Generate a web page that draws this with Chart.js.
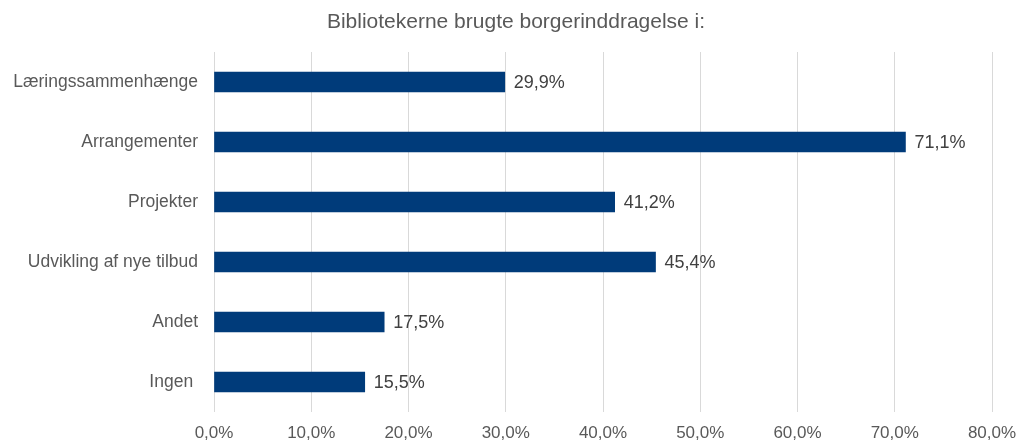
<!DOCTYPE html>
<html lang="da">
  <head>
    <meta charset="UTF-8" />
    <title>Borgerinddragelse</title>
    <style>
      html, body { margin: 0; padding: 0; background: #fff; }
      #wrap { width: 1022px; height: 442px; position: relative; }
    </style>
  </head>
  <body>
    <div id="wrap"><canvas id="myChart"></canvas></div>

    <script src="https://cdn.jsdelivr.net/npm/chart.js"></script>
    <script>
      const titel = "Bibliotekerne brugte borgerinddragelse i:";
      const kategorier = [
        "Læringssammenhænge",
        "Arrangementer",
        "Projekter",
        "Udvikling af nye tilbud",
        "Andet",
        "Ingen ",
      ];
      const andele = [29.9, 71.1, 41.2, 45.4, 17.5, 15.5];
      const xMin = 0;
      const xMax = 80;
      const xStep = 10;

      const tekstFarve = "#595959";
      const skrift = "'Liberation Sans', Arial, sans-serif";
      const fmt = (v) => v.toFixed(1).replace(".", ",") + "%";

      // titel + værdier til højre for hver søjle
      const tekster = {
        id: "tekster",
        afterDatasetsDraw(chart) {
          const { ctx } = chart;
          const meta = chart.getDatasetMeta(0);
          ctx.save();
          ctx.textBaseline = "middle";

          ctx.font = "21px " + skrift;
          ctx.fillStyle = tekstFarve;
          ctx.textAlign = "center";
          ctx.fillText(titel, 516, 22);

          ctx.font = "18px " + skrift;
          ctx.fillStyle = "#404040";
          ctx.textAlign = "left";
          meta.data.forEach((bar, i) => {
            ctx.fillText(fmt(andele[i]), bar.x + 9, bar.y + 1);
          });
          ctx.restore();
        },
      };

      const ctx = document.getElementById("myChart").getContext("2d");
      new Chart(ctx, {
        type: "bar",
        data: {
          labels: kategorier,
          datasets: [
            {
              data: andele,
              backgroundColor: "#003B7A",
              barThickness: 20,
            },
          ],
        },
        options: {
          indexAxis: "y",
          responsive: true,
          maintainAspectRatio: false,
          animation: false,
          layout: { padding: { left: 0, right: 30, top: 52, bottom: 0 } },
          plugins: {
            legend: { display: false },
            tooltip: { enabled: false },
            title: { display: false },
          },
          scales: {
            x: {
              min: xMin,
              max: xMax,
              ticks: {
                stepSize: xStep,
                color: tekstFarve,
                font: { family: skrift, size: 17 },
                padding: 11,
                callback: (v) => fmt(v),
              },
              grid: { color: "#d9d9d9", drawTicks: false },
              border: { display: false },
              afterFit: (scale) => {
                scale.height = 30;
                scale.paddingRight = 0;
                scale.paddingLeft = 0;
              },
            },
            y: {
              ticks: {
                color: tekstFarve,
                font: { family: skrift, size: 17.5 },
                padding: 16,
              },
              grid: { display: false, drawTicks: false },
              border: { display: false },
              afterFit: (scale) => { scale.width = 214; },
            },
          },
        },
        plugins: [tekster],
      });
    </script>
  </body>
</html>
